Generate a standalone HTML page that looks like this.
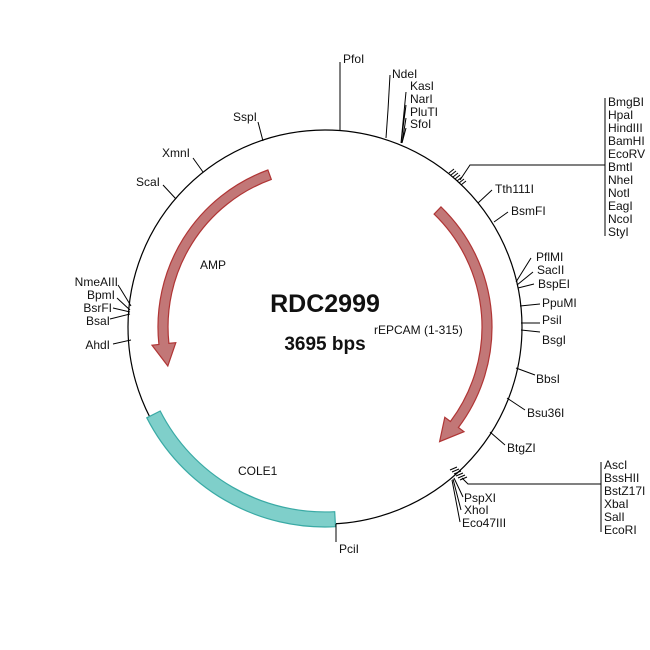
<!DOCTYPE html>
<html><head><style>body{margin:0;background:#fff}svg{display:block}text{font-family:"Liberation Sans",Arial,sans-serif;font-size:12px;fill:#111}</style></head>
<body>
<svg width="650" height="650" viewBox="0 0 650 650" xmlns="http://www.w3.org/2000/svg">
<rect width="650" height="650" fill="#fff"/>
<circle cx="325" cy="327" r="197" fill="none" stroke="#000" stroke-width="1.2"/>
<g transform="translate(0,2)">
<path d="M267.9,168 A167,167 0 0 0 158.9,342.5 L152,343.2 L167.8,364 L175.8,340.7 L168.9,341.4 A157,157 0 0 1 271.3,177.4 Z" fill="#c27777" stroke="#b03535" stroke-width="1.2"/>
<path d="M441,204.9 A167,167 0 0 1 458.4,425.5 L464,429.7 L439.6,439.6 L444.8,415.3 L450.4,419.5 A157,157 0 0 0 434.1,212.1 Z" fill="#c27777" stroke="#b03535" stroke-width="1.2"/>
<path d="M335.5,524.7 A200,200 0 0 1 146.8,415.8 L160.2,409 A185,185 0 0 0 334.7,509.7 Z" fill="#7fcfca" stroke="#3aaaa5" stroke-width="1.2"/>
</g>
<g stroke="#000" stroke-width="1" fill="none">
<path d="M340,130 V62"/>
<path d="M386,138 L388,110 L390,75"/>
<path d="M401,143 L406,92 M401,143 L406,105 M402,143 L406,118 M402,143 L406,128"/>
<path d="M449,173 l5,-4 M451,175 l5,-4 M453,177 l5,-4 M455,179 l5,-4 M457,181 l5,-4 M459,183 l5,-4 M461,185 l5,-4"/>
<path d="M460,180 L470,165 H605 M605,98 V236"/>
<path d="M478,203 L492,190"/>
<path d="M494,222 L508,212"/>
<path d="M516,282 L531,258 M517,285 L533,272 M518,288 L534,284"/>
<path d="M520,306 L540,304 M521,323 L540,323 M521,330 L540,332"/>
<path d="M516,368 L535,375"/>
<path d="M507,398 L525,410"/>
<path d="M490,432 L505,445"/>
<path d="M450,470 l7,-3 M452,472 l7,-3 M454,474 l7,-3 M456,476 l7,-3 M458,478 l7,-3 M460,480 l7,-3"/>
<path d="M462,478 L468,484 H601 M601,462 V532"/>
<path d="M454,478 L463,497 M453,479 L461,510 M452,480 L460,522"/>
<path d="M336,524 V542"/>
<path d="M263,141 L258,122"/>
<path d="M203,172 L193,158"/>
<path d="M176,199 L163,185"/>
<path d="M131,306 L120,288 L118,285 M130,310 L117,298 M130,312 L113,308 M130,314 L110,319"/>
<path d="M131,340 L113,344"/>
</g>
<text x="343" y="63">PfoI</text>
<text x="392" y="78">NdeI</text>
<text x="410" y="90">KasI</text>
<text x="410" y="103">NarI</text>
<text x="410" y="116">PluTI</text>
<text x="410" y="128">SfoI</text>
<g>
<text x="608" y="106">BmgBI</text><text x="608" y="119">HpaI</text><text x="608" y="132">HindIII</text><text x="608" y="145">BamHI</text><text x="608" y="158">EcoRV</text><text x="608" y="171">BmtI</text><text x="608" y="184">NheI</text><text x="608" y="197">NotI</text><text x="608" y="210">EagI</text><text x="608" y="223">NcoI</text><text x="608" y="236">StyI</text>
</g>
<text x="495" y="193">Tth111I</text>
<text x="511" y="215">BsmFI</text>
<text x="536" y="261">PflMI</text>
<text x="537" y="274">SacII</text>
<text x="538" y="288">BspEI</text>
<text x="542" y="307">PpuMI</text>
<text x="542" y="324">PsiI</text>
<text x="542" y="344">BsgI</text>
<text x="536" y="383">BbsI</text>
<text x="527" y="417">Bsu36I</text>
<text x="507" y="452">BtgZI</text>
<g><text x="604" y="469">AscI</text><text x="604" y="482">BssHII</text><text x="604" y="495">BstZ17I</text><text x="604" y="508">XbaI</text><text x="604" y="521">SalI</text><text x="604" y="534">EcoRI</text></g>
<text x="464" y="502">PspXI</text>
<text x="464" y="514">XhoI</text>
<text x="462" y="527">Eco47III</text>
<text x="339" y="553">PciI</text>
<text x="257" y="121" text-anchor="end">SspI</text>
<text x="190" y="157" text-anchor="end">XmnI</text>
<text x="160" y="186" text-anchor="end">ScaI</text>
<text x="118" y="286" text-anchor="end">NmeAIII</text>
<text x="115" y="299" text-anchor="end">BpmI</text>
<text x="112" y="312" text-anchor="end">BsrFI</text>
<text x="110" y="325" text-anchor="end">BsaI</text>
<text x="110" y="349" text-anchor="end">AhdI</text>
<text x="200" y="269">AMP</text>
<text x="238" y="475">COLE1</text>
<text x="374" y="334">rEPCAM (1-315)</text>
<text x="325" y="312" text-anchor="middle" style="font-size:25px;font-weight:bold">RDC2999</text>
<text x="325" y="350" text-anchor="middle" style="font-size:19px;font-weight:bold">3695 bps</text>
</svg>
</body></html>
